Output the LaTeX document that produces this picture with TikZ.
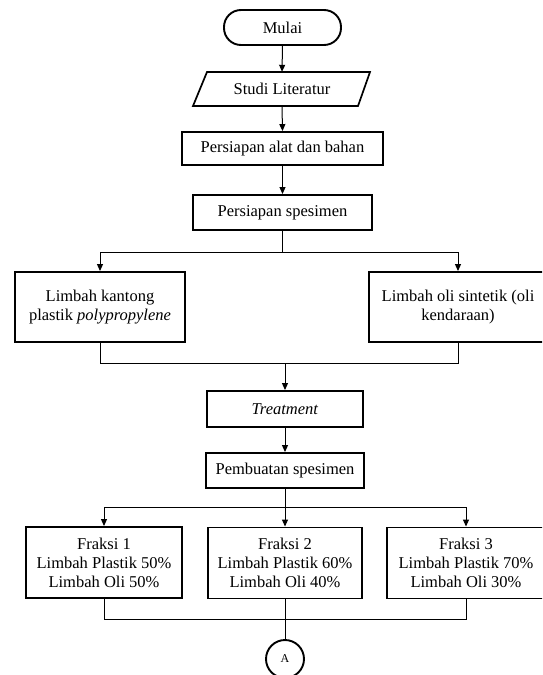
\documentclass[tikz,border=0pt]{standalone}
\usepackage{fontspec}
\setmainfont{Liberation Serif}
\usetikzlibrary{arrows.meta}
\begin{document}
\begin{tikzpicture}[x=1pt,y=-1pt,
  txt/.style={font=\fontsize{16.5}{19}\selectfont, align=center, inner sep=0pt},
  box/.style={txt, draw, line width=1.9pt, rectangle},
  conn/.style={line width=1pt},
  arr/.style={conn, -{Triangle[length=7pt,width=6pt]}}]
\useasboundingbox (0,0) rectangle (542,675);
\clip (0,0) rectangle (542,675);
\fill[white] (0,0) rectangle (542,675);

% nodes
\node[box, rounded corners=17pt, minimum width=117pt, minimum height=35pt] (mulai) at (282.5,27.5) {Mulai};
\node[txt, minimum width=150pt, minimum height=34pt] (studi) at (282,89) {Studi Literatur};
\draw[line width=1.7pt] (193,106) -- (207,72) -- (370,72) -- (358,106) -- cycle;
\node[box, minimum width=201pt, minimum height=33pt] (alat) at (282.5,148.5) {Persiapan alat dan bahan};
\node[box, minimum width=179pt, minimum height=35pt] (spes) at (282.5,212.5) {Persiapan spesimen};
\node[box, minimum width=170pt, minimum height=70pt] (kantong) at (100,307) {Limbah kantong\\plastik \textit{polypropylene}};
\node[box, minimum width=178pt, minimum height=70pt] (oli) at (458,307) {Limbah oli sintetik (oli\\kendaraan)};
\node[box, minimum width=156pt, minimum height=36pt] (treat) at (285,409) {\textit{Treatment}};
\node[box, minimum width=158pt, minimum height=35pt] (pemb) at (285,470.5) {Pembuatan spesimen};
\node[box, minimum width=156pt, minimum height=71pt] (f1) at (104,562.5) {Fraksi 1\\Limbah Plastik 50\%\\Limbah Oli 50\%};
\node[box, minimum width=154pt, minimum height=71pt] (f2) at (285,563) {Fraksi 2\\Limbah Plastik 60\%\\Limbah Oli 40\%};
\node[box, minimum width=158pt, minimum height=71pt] (f3) at (466,563) {Fraksi 3\\Limbah Plastik 70\%\\Limbah Oli 30\%};
\node[txt, draw, circle, line width=1.9pt, minimum size=38pt, font=\fontsize{12}{14}\selectfont] (a) at (285,659) {A};

% junctions
\coordinate (j1) at (282.5,252);
\coordinate (j2) at (285,363);
\coordinate (j3) at (285,507);
\coordinate (j4) at (285,619);

% connectors
\draw[arr] (mulai.south) -- (studi.north);
\draw[arr] (studi.south) -- (alat.north);
\draw[arr] (alat.south) -- (spes.north);
\draw[conn] (spes.south) -- (j1);
\draw[arr] (j1) -| (kantong.north);
\draw[arr] (j1) -| (oli.north);
\draw[conn] (kantong.south) |- (j2);
\draw[conn] (oli.south) |- (j2);
\draw[arr] (j2) -- (treat.north);
\draw[arr] (treat.south) -- (pemb.north);
\draw[conn] (pemb.south) -- (j3);
\draw[arr] (j3) -| (f1.north);
\draw[arr] (j3) -- (f2.north);
\draw[arr] (j3) -| (f3.north);
\draw[conn] (f1.south) |- (j4);
\draw[conn] (f3.south) |- (j4);
\draw[conn] (f2.south) -- (j4);
\draw[conn] (j4) -- (a.north);
\end{tikzpicture}
\end{document}
